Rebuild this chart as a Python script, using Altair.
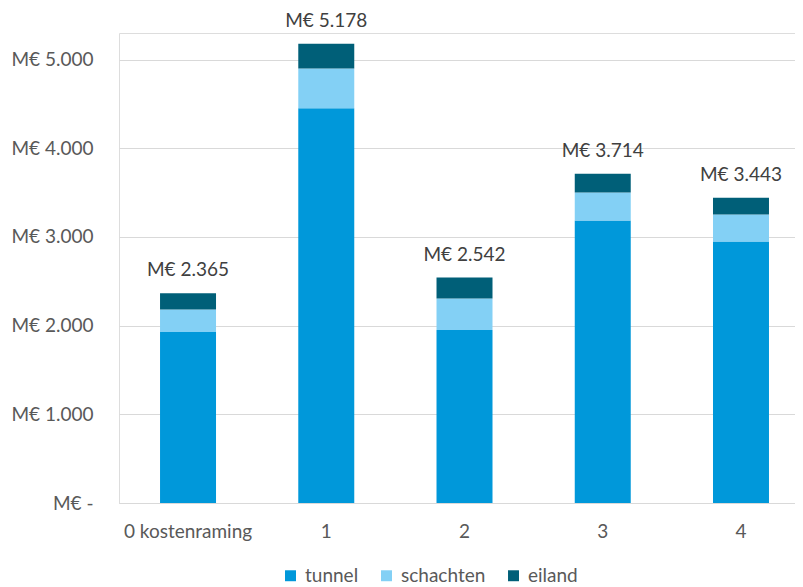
import altair as alt
import pandas as pd

categories = ["0 kostenraming", "1", "2", "3", "4"]
series = ["tunnel", "schachten", "eiland"]
tunnel = [1927, 4452, 1950, 3186, 2949]
schachten = [256, 447, 357, 316, 305]
eiland = [182, 279, 235, 212, 189]
totals = [2365, 5178, 2542, 3714, 3443]
colors = ["#0098DA", "#83D0F5", "#005F78"]

rows = []
for i, c in enumerate(categories):
    for k, (s, vals) in enumerate(zip(series, [tunnel, schachten, eiland])):
        rows.append({"cat": c, "serie": s, "value": vals[i], "ord": k})
df = pd.DataFrame(rows)
tot_df = pd.DataFrame({"cat": categories, "total": totals})

FONT = "Lato"
FS = 19
xscale = alt.Scale(domain=categories, paddingInner=0.595, paddingOuter=0.2425, align=0.612)
yscale = alt.Scale(domain=[0, 5300], nice=False)

bars = alt.Chart(df).mark_bar().encode(
    x=alt.X("cat:N", scale=xscale, sort=categories,
            axis=alt.Axis(title=None, labelAngle=0, domain=True, domainColor="#d9d9d9",
                          ticks=False, labelPadding=19, labelFontSize=FS,
                          labelColor="#595959", labelFont=FONT)),
    y=alt.Y("value:Q", scale=yscale, stack="zero",
            axis=alt.Axis(title=None, values=[0, 1000, 2000, 3000, 4000, 5000],
                          labelExpr="datum.value == 0 ? 'M€ -' : 'M€ ' + replace(format(datum.value, ',.0f'), ',', '.')",
                          grid=True, gridColor="#d9d9d9", domain=False, ticks=False,
                          labelPadding=26, labelFontSize=FS, labelColor="#595959",
                          labelFont=FONT)),
    color=alt.Color("serie:N", scale=alt.Scale(domain=series, range=colors),
                    legend=alt.Legend(title=None, orient="none", direction="horizontal",
                                      legendX=162, legendY=533, symbolType="square",
                                      symbolSize=120, symbolStrokeWidth=0,
                                      labelFontSize=FS, labelColor="#595959",
                                      labelFont=FONT, labelOffset=5, columnPadding=18)),
    order=alt.Order("ord:Q"),
)

labels = alt.Chart(tot_df).mark_text(dy=-23, fontSize=FS, color="#404040", font=FONT,
                                     baseline="middle").encode(
    x=alt.X("cat:N", scale=xscale, sort=categories),
    y=alt.Y("total:Q", scale=yscale),
    text=alt.Text("label:N"),
).transform_calculate(
    label="'M€ ' + replace(format(datum.total, ',.0f'), ',', '.')"
)

chart = (bars + labels).properties(
    width=676, height=470,
    autosize=alt.AutoSizeParams(type="none"),
    padding={"left": 111, "top": 25, "right": 0, "bottom": 84},
).configure_view(stroke=None).configure(background="white")

chart.save("out.html", embed_options={"renderer": "svg", "actions": False})
